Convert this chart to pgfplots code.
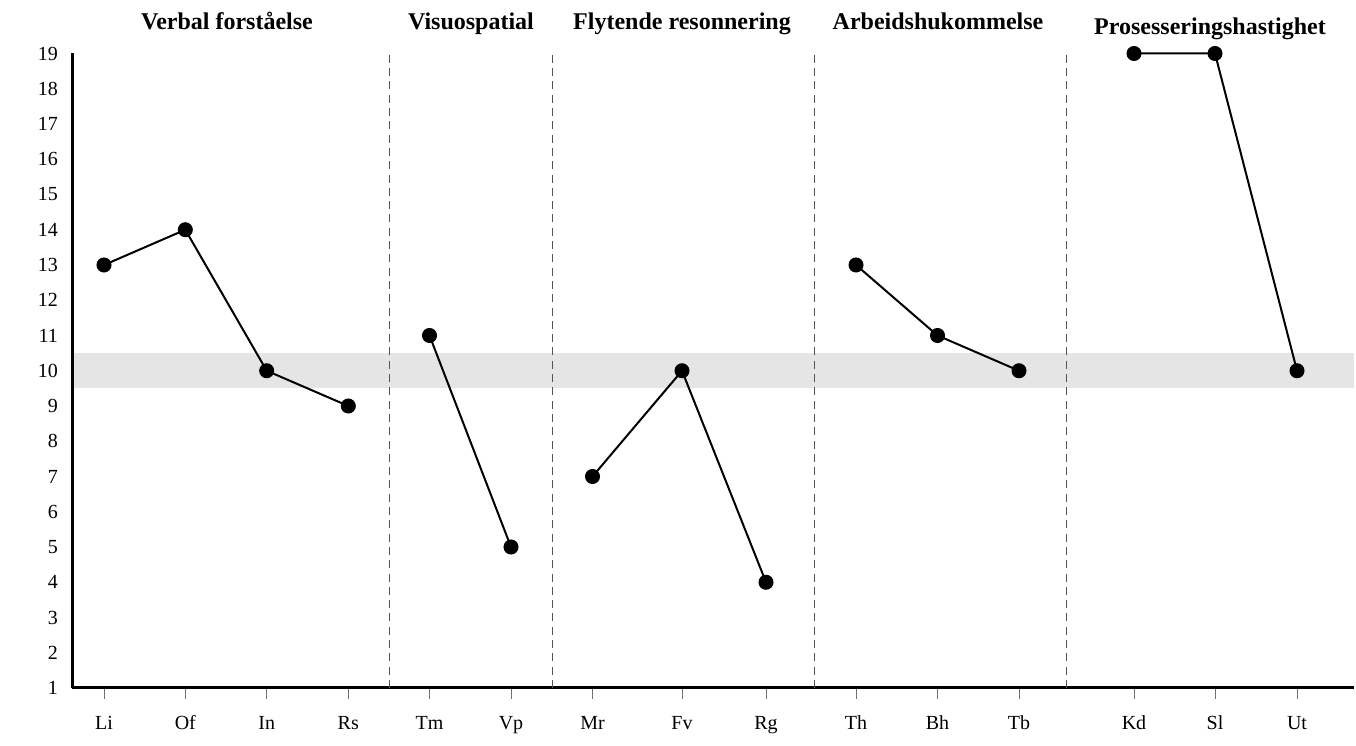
\documentclass[border=0pt]{standalone}
\usepackage{pgfplots}
\pgfplotsset{compat=1.18}
\usepackage{fontspec}
\setmainfont{Liberation Serif}
\definecolor{bandgray}{HTML}{E5E5E5}
\definecolor{dashgray}{HTML}{555555}
\definecolor{tickgray}{HTML}{707070}
\pgfplotsset{scoreline/.style={black, solid, line width=2pt, mark=*, mark size=7pt, mark options={solid, fill=black, draw=black, line width=1pt}}}
\begin{document}
\begin{tikzpicture}
\useasboundingbox (0,0) rectangle (1356pt,746pt);
\begin{axis}[
  at={(72.3pt,58pt)}, anchor=south west,
  scale only axis, width=1281.7pt, height=634.5pt,
  xmin=72.3, xmax=1354, ymin=1, ymax=19,
  clip=false,
  axis x line*=bottom, axis y line*=left,
  axis line style={line width=3pt},
  ytick={1,...,19},
  xtick={104,185.3,266.7,348.3,429.5,511,592.5,682,766,856,937.5,1019,1134,1215,1297},
  xticklabels={Li,Of,In,Rs,Tm,Vp,Mr,Fv,Rg,Th,Bh,Tb,Kd,Sl,Ut},
  tick align=outside,
  major tick length=11pt,
  xtick style={draw=tickgray, line width=1pt},
  ytick style={draw=none},
  ticklabel style={font=\fontsize{20}{24}\selectfont},
  /pgf/number format/assume math mode=true,
  xticklabel style={anchor=base, yshift=-31pt},
  yticklabel style={anchor=east},
]
\addplot[fill=bandgray, draw=none] coordinates {(73.8,9.5) (1354,9.5) (1354,10.5) (73.8,10.5)} -- cycle;
\addplot[dashgray, line width=1pt, dash pattern=on 8pt off 5.3pt] coordinates {(389,1) (389,19)};
\addplot[dashgray, line width=1pt, dash pattern=on 8pt off 5.3pt] coordinates {(552,1) (552,19)};
\addplot[dashgray, line width=1pt, dash pattern=on 8pt off 5.3pt] coordinates {(814,1) (814,19)};
\addplot[dashgray, line width=1pt, dash pattern=on 8pt off 5.3pt] coordinates {(1066,1) (1066,19)};
\addplot[scoreline] coordinates {(104,13) (185.3,14) (266.7,10) (348.3,9)};
\addplot[scoreline] coordinates {(429.5,11) (511,5)};
\addplot[scoreline] coordinates {(592.5,7) (682,10) (766,4)};
\addplot[scoreline] coordinates {(856,13) (937.5,11) (1019,10)};
\addplot[scoreline] coordinates {(1134,19) (1215,19) (1297,10)};
\begin{scope}[every node/.style={font=\bfseries\fontsize{24}{28}\selectfont, anchor=base, inner sep=0pt}]
\node at (axis cs:227,19.68) {Verbal forståelse};
\node at (axis cs:471,19.68) {Visuospatial};
\node at (axis cs:682,19.68) {Flytende resonnering};
\node at (axis cs:938,19.68) {Arbeidshukommelse};
\node at (axis cs:1210,19.525) {Prosesseringshastighet};
\end{scope}
\end{axis}
\end{tikzpicture}
\end{document}
